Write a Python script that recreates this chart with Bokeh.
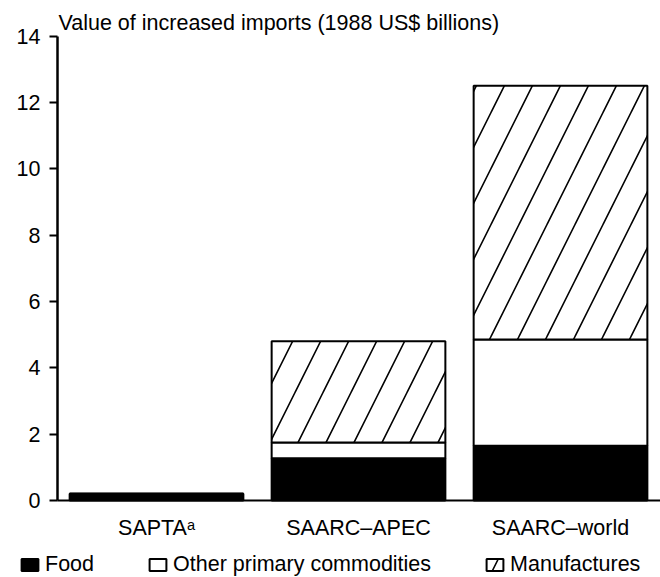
from bokeh.plotting import figure
from bokeh.models import (Range1d, FixedTicker, Legend, LegendItem, Label,
                          ColumnDataSource)
from bokeh.embed import file_html
from bokeh.resources import INLINE

# ---- data ----
categories = ["SAPTA\u1d43", "SAARC\u2013APEC", "SAARC\u2013world"]
food = [0.2, 1.27, 1.65]
other_primary = [0.0, 0.48, 3.2]
manufactures = [0.0, 3.05, 7.65]
series_names = ["Food", "Other primary commodities", "Manufactures"]
y_ticks = [0, 2, 4, 6, 8, 10, 12, 14]
y_title = "Value of increased imports (1988 US$ billions)"

FONT = "Liberation Sans"
FS = "21.5px"

X0, X1 = -0.7723, 2.495      # visible x extent of the canvas
Y0, Y1 = -2.321, 15.07       # visible y extent of the canvas
AXIS_X = -0.4901             # where the value axis stands

xs = list(range(len(categories)))
src = ColumnDataSource(dict(x=xs, food=food, other=other_primary, manu=manufactures))

p = figure(width=660, height=577, output_backend="svg", toolbar_location=None,
           x_range=Range1d(X0, X1), y_range=Range1d(Y0, Y1),
           min_border_left=0, min_border_right=0, min_border_top=0,
           min_border_bottom=0)
p.outline_line_color = None
p.grid.visible = False
p.background_fill_color = "white"
p.border_fill_color = "white"

r = p.vbar_stack(["food", "other", "manu"], x="x", width=0.86, source=src,
                 fill_color=["black", "white", "white"],
                 line_color="black", line_width=2,
                 hatch_pattern=[" ", " ", "right_diagonal_line"],
                 hatch_color="black", hatch_scale=56, hatch_weight=1.6)

# y axis
ya = p.yaxis[0]
ya.fixed_location = AXIS_X
ya.bounds = (y_ticks[0], y_ticks[-1])
ya.ticker = FixedTicker(ticks=y_ticks)
ya.axis_line_width = 2.5
ya.major_tick_line_width = 2
ya.major_tick_out = 8
ya.major_tick_in = 0
ya.minor_tick_line_color = None
ya.major_label_standoff = 9
ya.major_label_text_font = FONT
ya.major_label_text_font_size = FS
ya.major_label_text_color = "black"

# x axis
xa = p.xaxis[0]
xa.fixed_location = 0
xa.bounds = (AXIS_X, X1)
xa.ticker = FixedTicker(ticks=xs)
xa.major_label_overrides = {x: c for x, c in zip(xs, categories)}
xa.axis_line_width = 2
xa.major_tick_line_color = None
xa.major_tick_out = 0
xa.major_tick_in = 0
xa.minor_tick_line_color = None
xa.major_label_standoff = 16
xa.major_label_text_font = FONT
xa.major_label_text_font_size = FS
xa.major_label_text_color = "black"

# axis title at the top-left of the value axis
p.add_layout(Label(x=AXIS_X, y=y_ticks[-1], x_offset=1, y_offset=13.5,
                   text=y_title, text_font=FONT, text_font_size=FS,
                   text_color="black", text_baseline="middle",
                   text_align="left"))

legend = Legend(items=[LegendItem(label=n, renderers=[rr], index=None)
                       for n, rr in zip(series_names, r)],
                orientation="horizontal", location=(19, 0),
                padding=0, margin=0, spacing=53, label_standoff=5,
                glyph_width=21, glyph_height=15,
                border_line_color=None, background_fill_alpha=0,
                label_text_font=FONT, label_text_font_size=FS,
                label_text_color="black")
p.add_layout(legend, "center")

open("out.html", "w").write(file_html(p, INLINE))
